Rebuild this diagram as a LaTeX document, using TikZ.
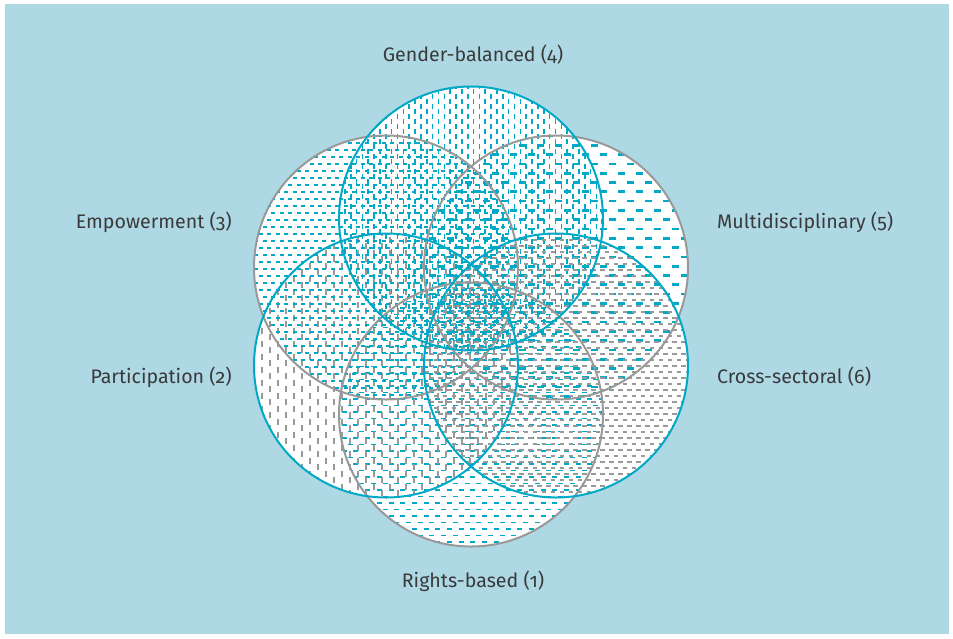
\documentclass[tikz,border=0pt]{standalone}
\usepackage{fontspec}
\setmainfont{Fira Sans}[Numbers=OldStyle]
\definecolor{bg}{HTML}{ADD8E4}
\definecolor{cy}{HTML}{00A9C6}
\definecolor{gr}{HTML}{999999}
\definecolor{tx}{HTML}{3A3A3A}
\begin{document}
\begin{tikzpicture}[x=1pt,y=-1pt,
  lbl/.style={font=\fontsize{19.6}{23}\selectfont, text=tx, inner sep=0pt},
  ring/.style={line width=2pt},
  pat/.style={line cap=butt}]
\useasboundingbox (0,0) rectangle (953,638);
\fill[white] (0,0) rectangle (953,638);
\fill[bg] (5,4) rectangle (949,634);
\coordinate (c1) at (471,414.5);
\coordinate (c2) at (386,365.5);
\coordinate (c3) at (386,267.5);
\coordinate (c4) at (471,218.5);
\coordinate (c5) at (556,267.5);
\coordinate (c6) at (556,365.5);
\foreach \c in {c1,c2,c3,c4,c5,c6} \fill[white] (\c) circle[radius=132pt];
% Rights-based: cyan horizontal dashes
\begin{scope}
\clip (c1) circle[radius=132pt];
\foreach \yy in {282,295,...,548} \draw[pat,cy,line width=2pt,dash pattern=on 5pt off 6.7pt] (330,\yy) -- (610,\yy);
\foreach \yy in {288.5,301.5,...,548} \draw[pat,cy,line width=1.2pt,dash pattern=on 5pt off 6.7pt,dash phase=5.85pt] (330,\yy) -- (610,\yy);
\end{scope}
% Participation: gray vertical dashes
\begin{scope}
\clip (c2) circle[radius=132pt];
\foreach \xx in {254,270,...,520} \draw[pat,gr,line width=1.8pt,dash pattern=on 6pt off 7pt] (\xx,230) -- (\xx,500);
\foreach \xx in {262,278,...,520} \draw[pat,gr,line width=1.8pt,dash pattern=on 6pt off 7pt,dash phase=6.5pt] (\xx,230) -- (\xx,500);
\end{scope}
% Empowerment: cyan small horizontal dashes
\begin{scope}
\clip (c3) circle[radius=132pt];
\foreach \yy in {136,150,...,402} \draw[pat,cy,line width=1.4pt,dash pattern=on 4pt off 4.5pt] (250,\yy) -- (522,\yy);
\foreach \yy in {143,157,...,402} \draw[pat,cy,line width=1.2pt,dash pattern=on 4pt off 4.5pt,dash phase=4.25pt] (250,\yy) -- (522,\yy);
\end{scope}
% Gender-balanced: cyan vertical dashes
\begin{scope}
\clip (c4) circle[radius=132pt];
\foreach \xx in {339,350.7,...,606} \draw[pat,cy,line width=1.6pt,dash pattern=on 5pt off 5pt] (\xx,84) -- (\xx,352);
\foreach \xx in {344.85,356.55,...,606} \draw[pat,cy,line width=1.6pt,dash pattern=on 5pt off 5pt,dash phase=5pt] (\xx,84) -- (\xx,352);
\end{scope}
% Multidisciplinary: cyan thick horizontal dashes
\begin{scope}
\clip (c5) circle[radius=132pt];
\foreach \yy in {136,154.6,...,402} \draw[pat,cy,line width=2.7pt,dash pattern=on 7pt off 11pt] (420,\yy) -- (692,\yy);
\foreach \yy in {145.3,163.9,...,402} \draw[pat,cy,line width=2.7pt,dash pattern=on 7pt off 11pt,dash phase=9pt] (420,\yy) -- (692,\yy);
\end{scope}
% Cross-sectoral: gray horizontal dashes
\begin{scope}
\clip (c6) circle[radius=132pt];
\foreach \yy in {234,246,...,500} \draw[pat,gr,line width=1.7pt,dash pattern=on 4.5pt off 4.5pt] (420,\yy) -- (692,\yy);
\foreach \yy in {240,252,...,500} \draw[pat,gr,line width=1.7pt,dash pattern=on 4.5pt off 4.5pt,dash phase=4.5pt] (420,\yy) -- (692,\yy);
\end{scope}
% outlines
\draw[ring,gr] (c1) circle[radius=132pt];
\draw[ring,gr] (c3) circle[radius=132pt];
\draw[ring,gr] (c5) circle[radius=132pt];
\draw[ring,cy] (c2) circle[radius=132pt];
\draw[ring,cy] (c4) circle[radius=132pt];
\draw[ring,cy] (c6) circle[radius=132pt];
% labels
\node[lbl,anchor=base] (l4) at (473,61) {Gender-balanced (4)};
\node[lbl,anchor=base east] (l3) at (232,228) {Empowerment (3)};
\node[lbl,anchor=base east] (l2) at (232,383) {Participation (2)};
\node[lbl,anchor=base west] (l5) at (717,228) {Multidisciplinary (5)};
\node[lbl,anchor=base west] (l6) at (717,383) {Cross-sectoral (6)};
\node[lbl,anchor=base] (l1) at (473,587) {Rights-based (1)};
\end{tikzpicture}
\end{document}
